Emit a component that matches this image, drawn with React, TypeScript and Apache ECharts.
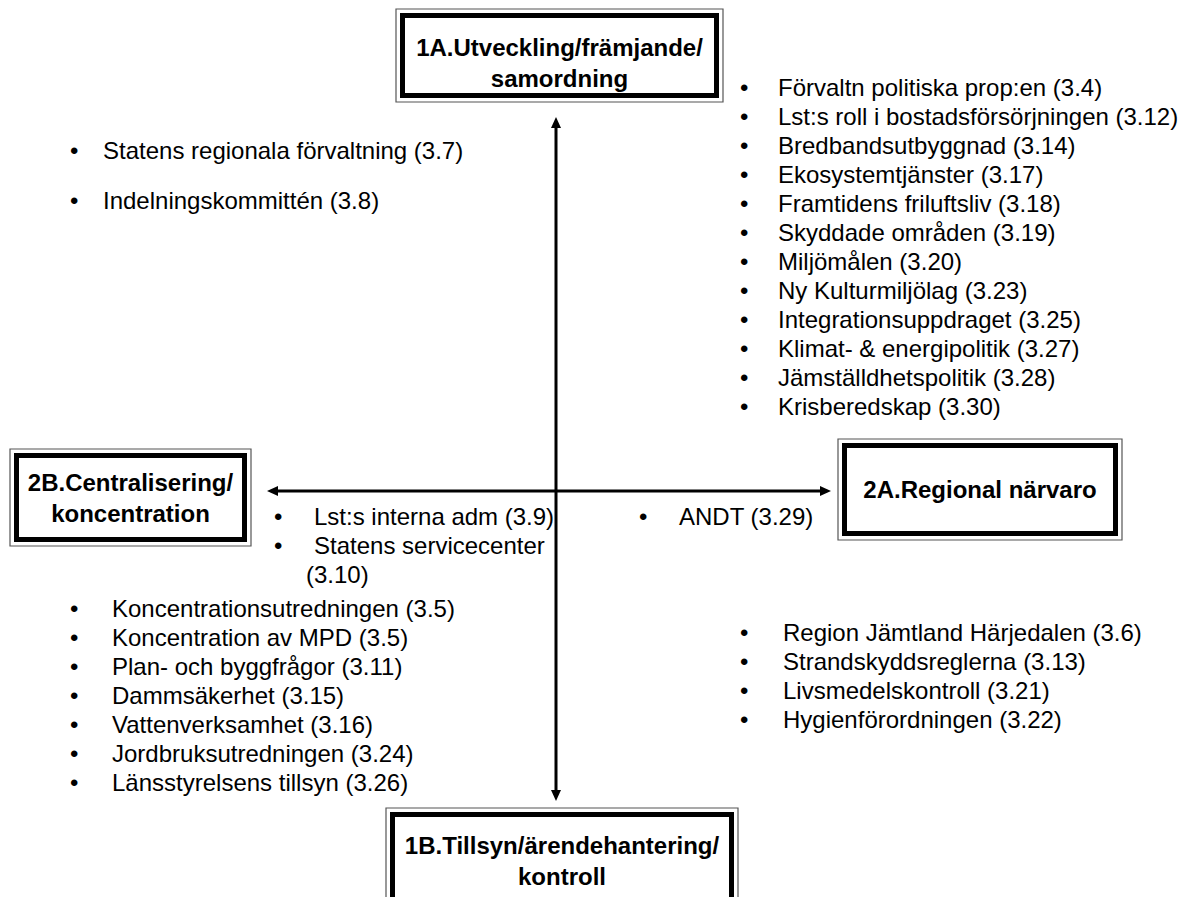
import React, { useEffect, useRef } from "react";
import * as echarts from "echarts";

// ---- Diagram content ----
const BOX_TITLES = {
  top: ["1A.Utveckling/främjande/", "samordning"],
  bottom: ["1B.Tillsyn/ärendehantering/", "kontroll"],
  left: ["2B.Centralisering/", "koncentration"],
  right: ["2A.Regional närvaro"],
};

const TOP_LEFT_ITEMS = ["Statens regionala förvaltning (3.7)", "Indelningskommittén (3.8)"];

const TOP_RIGHT_ITEMS = [
  "Förvaltn politiska prop:en (3.4)",
  "Lst:s roll i bostadsförsörjningen (3.12)",
  "Bredbandsutbyggnad (3.14)",
  "Ekosystemtjänster (3.17)",
  "Framtidens friluftsliv (3.18)",
  "Skyddade områden (3.19)",
  "Miljömålen (3.20)",
  "Ny Kulturmiljölag (3.23)",
  "Integrationsuppdraget (3.25)",
  "Klimat- & energipolitik (3.27)",
  "Jämställdhetspolitik (3.28)",
  "Krisberedskap (3.30)",
];

const CENTER_LEFT_ITEMS = ["Lst:s interna adm (3.9)", "Statens servicecenter"];
const CENTER_LEFT_WRAP = "(3.10)";
const CENTER_RIGHT_ITEMS = ["ANDT (3.29)"];

const BOTTOM_LEFT_ITEMS = [
  "Koncentrationsutredningen (3.5)",
  "Koncentration av MPD (3.5)",
  "Plan- och byggfrågor (3.11)",
  "Dammsäkerhet (3.15)",
  "Vattenverksamhet (3.16)",
  "Jordbruksutredningen (3.24)",
  "Länsstyrelsens tillsyn (3.26)",
];

const BOTTOM_RIGHT_ITEMS = [
  "Region Jämtland Härjedalen (3.6)",
  "Strandskyddsreglerna (3.13)",
  "Livsmedelskontroll (3.21)",
  "Hygienförordningen (3.22)",
];

const FONT = "'Liberation Sans', Arial, Helvetica, sans-serif";
const LINE = 29;

function boxEls(x1: number, y1: number, x2: number, y2: number, lines: string[], textY: number[]) {
  const els: any[] = [];
  els.push({
    type: "rect",
    shape: { x: x1, y: y1, width: x2 - x1, height: y2 - y1 },
    style: { fill: "#fff", stroke: "#555", lineWidth: 1.2 },
  });
  const inset = 6.5;
  els.push({
    type: "rect",
    shape: { x: x1 + inset, y: y1 + inset, width: x2 - x1 - 2 * inset, height: y2 - y1 - 2 * inset },
    style: { fill: "#fff", stroke: "#000", lineWidth: 5 },
  });
  lines.forEach((t, i) => {
    els.push({
      type: "text",
      x: (x1 + x2) / 2,
      y: textY[i],
      style: {
        text: t,
        font: `bold 24px ${FONT}`,
        fill: "#000",
        textAlign: "center",
        textVerticalAlign: "middle",
      },
    });
  });
  return els;
}

function listEls(items: string[], bulletX: number, textX: number, y0: number, step: number) {
  const els: any[] = [];
  items.forEach((t, i) => {
    const y = y0 + i * step;
    els.push({
      type: "text",
      x: bulletX,
      y,
      style: { text: "•", font: `24px ${FONT}`, fill: "#000", textAlign: "left", textVerticalAlign: "middle" },
    });
    els.push({
      type: "text",
      x: textX,
      y,
      style: { text: t, font: `24px ${FONT}`, fill: "#000", textAlign: "left", textVerticalAlign: "middle" },
    });
  });
  return els;
}

function arrowHead(tipX: number, tipY: number, dir: "up" | "down" | "left" | "right") {
  const L = 11;
  const W = 5;
  let pts: number[][] = [];
  if (dir === "up") pts = [[tipX, tipY], [tipX - W, tipY + L], [tipX + W, tipY + L]];
  if (dir === "down") pts = [[tipX, tipY], [tipX - W, tipY - L], [tipX + W, tipY - L]];
  if (dir === "left") pts = [[tipX, tipY], [tipX + L, tipY - W], [tipX + L, tipY + W]];
  if (dir === "right") pts = [[tipX, tipY], [tipX - L, tipY - W], [tipX - L, tipY + W]];
  return { type: "polygon", shape: { points: pts }, style: { fill: "#000" } };
}

export default function App() {
  const ref = useRef<HTMLDivElement>(null);
  useEffect(() => {
    document.body.style.margin = "0";
    if (!ref.current) return;
    const chart = echarts.init(ref.current, undefined, { renderer: "svg" });

    const vx = 556;
    const vTop = 117;
    const vBot = 801;
    const hy = 491;
    const hLeft = 267;
    const hRight = 831;

    const elements: any[] = [
      { type: "rect", shape: { x: 0, y: 0, width: 1188, height: 897 }, style: { fill: "#fff" } },
      // vertical axis
      { type: "line", shape: { x1: vx, y1: vTop + 8, x2: vx, y2: vBot - 8 }, style: { stroke: "#000", lineWidth: 3 } },
      arrowHead(vx, vTop, "up"),
      arrowHead(vx, vBot, "down"),
      // horizontal axis
      { type: "line", shape: { x1: hLeft + 8, y1: hy, x2: hRight - 8, y2: hy }, style: { stroke: "#000", lineWidth: 3 } },
      arrowHead(hLeft, hy, "left"),
      arrowHead(hRight, hy, "right"),
      ...boxEls(396, 9, 723, 102, BOX_TITLES.top, [47, 78]),
      ...boxEls(386, 808, 738, 910, BOX_TITLES.bottom, [845, 876]),
      ...boxEls(10, 449, 251, 546, BOX_TITLES.left, [482, 513]),
      ...boxEls(838, 439, 1122, 540, BOX_TITLES.right, [489]),
      ...listEls(TOP_LEFT_ITEMS, 70, 103, 150, 50),
      ...listEls(TOP_RIGHT_ITEMS, 740, 778, 87, LINE),
      ...listEls(CENTER_LEFT_ITEMS, 274, 314, 516, LINE),
      {
        type: "text",
        x: 306,
        y: 516 + 2 * LINE,
        style: { text: CENTER_LEFT_WRAP, font: `24px ${FONT}`, fill: "#000", textAlign: "left", textVerticalAlign: "middle" },
      },
      ...listEls(CENTER_RIGHT_ITEMS, 639, 679, 516, LINE),
      ...listEls(BOTTOM_LEFT_ITEMS, 70, 112, 608, LINE),
      ...listEls(BOTTOM_RIGHT_ITEMS, 740, 783, 632, LINE),
    ];

    chart.setOption({
      animation: false,
      backgroundColor: "#fff",
      graphic: { elements },
    });
    return () => chart.dispose();
  }, []);
  return <div ref={ref} style={{ width: 1188, height: 897 }} />;
}
